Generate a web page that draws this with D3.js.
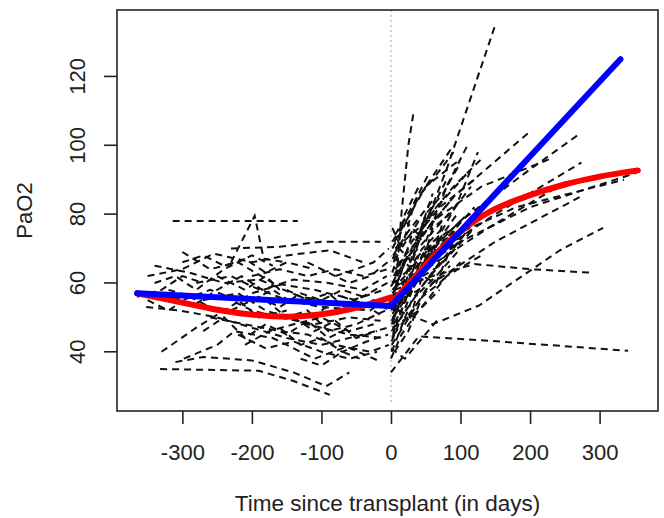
<!DOCTYPE html>
<html>
<head>
<meta charset="utf-8">
<script src="https://cdn.jsdelivr.net/npm/d3@7"></script>
<style>
  body { margin: 0; background: #fff; }
  text { font-family: "Liberation Sans", Arial, sans-serif; }
</style>
</head>
<body>
<div id="chart"></div>
<script>
// tick labels
var xTicks = [-300, -200, -100, 0, 100, 200, 300]
var yTicks = [40, 60, 80, 100, 120]

// individual patients before transplant: [day, PaO2]
var preTrajectories = [
  [[-314,78],[-196,78],[-134,78]],
  [[-230,66],[-196,79.5],[-183,67],[-150,66]],
  [[-332,35],[-190,34.5],[-140,31.5],[-88,27.5]],
  [[-310,37],[-270,38.5],[-200,37.5],[-140,34],[-93,30],[-60,34]],
  [[-330,40],[-280,47],[-240,52],[-200,57],[-150,60]],
  [[-298,38],[-250,42],[-225,46],[-170,44],[-110,38],[-64,41.5],[-19,37.5]],
  [[-230,70],[-160,70.5],[-100,72],[-15,72]],
  [[-350,62],[-300,64],[-255,68.5],[-200,66],[-150,68],[-88,69.5],[-40,66]],
  [[-352,53],[-304,52],[-250,50],[-200,47],[-150,44],[-100,42],[-40,45],[-5,47]],
  [[-320,58],[-270,55],[-220,57],[-180,52],[-120,48],[-60,45],[-10,44]],
  [[-340,65],[-290,63],[-240,60],[-190,61],[-130,56],[-70,54],[-10,58]],
  [[-300,69],[-260,64],[-220,66],[-170,60],[-110,58],[-50,55],[-5,60]],
  [[-280,60],[-230,62],[-200,59],[-150,55],[-100,53],[-30,52],[-2,56]],
  [[-260,50],[-210,48],[-160,46],[-120,45],[-80,42],[-30,40],[-3,42]],
  [[-240,56],[-200,52],[-160,50],[-110,48],[-60,50],[-15,49]],
  [[-220,45],[-180,41],[-140,43],[-100,40],[-60,38],[-20,40]],
  [[-200,62],[-160,64],[-120,62],[-80,64],[-40,62],[-5,64]],
  [[-180,55],[-150,50],[-120,52],[-90,46],[-50,48],[-8,52]],
  [[-340,60],[-310,62],[-280,58],[-240,64],[-200,68],[-170,65]],
  [[-330,57],[-300,55],[-260,58],[-220,55],[-190,50],[-150,52]],
  [[-280,54],[-250,58],[-215,62],[-185,58],[-140,61],[-90,60],[-40,58],[-6,62]],
  [[-160,47],[-130,42],[-100,44],[-70,40],[-35,43],[-4,45]],
  [[-150,58],[-120,55],[-90,57],[-60,52],[-25,55],[-3,52]],
  [[-120,66],[-90,63],[-60,60],[-30,62],[-5,66]],
  [[-210,42],[-175,46],[-140,48],[-100,50],[-60,46],[-25,48]],
  [[-100,52],[-70,56],[-40,54],[-10,50]],
  [[-130,38],[-100,36],[-70,40],[-45,38]],
  [[-80,62],[-50,64],[-25,66],[-3,70]],
  [[-250,62],[-210,58],[-180,62],[-160,58]],
  [[-365,56],[-330,58],[-300,62],[-270,60]],
  [[-300,66],[-270,68],[-240,65],[-210,67],[-180,63],[-150,66],[-110,64]],
  [[-270,46],[-240,50],[-210,44],[-180,48],[-150,45],[-120,49],[-90,44],[-60,47]],
  [[-190,56],[-160,53],[-130,57],[-100,55],[-70,58],[-40,56]],
  [[-350,55],[-320,52],[-290,56],[-260,53]],
  [[-140,50],[-110,46],[-80,49],[-50,44],[-20,46]],
  [[-230,52],[-200,55],[-170,58],[-140,54]]
]

// individual patients after transplant
var postTrajectories = [
  [[5,50],[40,72],[80,93],[120,117],[150,135]],
  [[3,48],[15,80],[25,100],[32,109]],
  [[5,58],[60,62],[120,65.5],[200,64],[286,63]],
  [[0,34],[40,44.5],[127,43.4],[341,40.3]],
  [[10,52],[60,48],[127,53.5],[243,69.5],[305,76]],
  [[5,55],[80,70],[200,82],[353,92]],
  [[5,60],[100,78],[200,93],[269,103]],
  [[8,65],[90,85],[200,104]],
  [[3,52],[60,68],[150,80],[274,95]],
  [[2,57],[70,72],[180,82],[335,90]],
  [[4,45],[60,60],[150,72],[272,85]],
  [[6,62],[60,78],[130,88],[228,96]],
  [[3,50],[50,64],[140,76],[257,90]],
  [[2,70],[40,85],[90,100]],
  [[5,72],[50,88],[100,96]],
  [[1,40],[30,55],[70,66],[110,75]],
  [[2,44],[25,58],[60,70],[95,80]],
  [[4,62],[30,72],[70,82],[120,90]],
  [[1,55],[20,66],[50,75],[90,85]],
  [[3,68],[25,75],[60,84]],
  [[2,47],[40,52],[80,62],[130,68]],
  [[1,42],[20,48],[50,58],[85,65]],
  [[4,53],[35,62],[70,72],[110,80]],
  [[2,60],[30,70],[55,80],[80,90]],
  [[6,74],[30,82],[55,92]],
  [[1,49],[25,60],[55,66],[100,72]],
  [[3,56],[30,60],[70,65],[120,76]],
  [[0,38],[15,45],[40,52],[70,58]],
  [[5,64],[30,68],[65,76],[100,84]],
  [[2,51],[20,56],[45,64],[80,73],[120,82]],
  [[1,46],[35,56],[65,62],[100,70]],
  [[4,66],[20,80],[40,88]],
  [[2,58],[20,62],[45,70],[75,76]],
  [[6,70],[40,76],[75,84],[110,92]],
  [[1,43],[15,50],[35,60],[60,72]],
  [[3,54],[40,58],[90,70],[150,86]],
  [[2,76],[15,70],[40,78]],
  [[0,41],[20,38],[45,44],[70,50]],
  [[2,63],[12,70],[30,66],[50,80],[75,86],[100,95]],
  [[1,52],[10,60],[25,56],[45,68],[70,74],[95,83],[125,98]],
  [[3,45],[12,52],[28,50],[45,62],[65,60],[90,72]],
  [[0,59],[15,64],[30,74],[50,72],[80,88],[110,100]],
  [[4,48],[20,54],[35,66],[55,64],[75,78]],
  [[2,67],[18,72],[35,84],[60,90],[90,98]],
  [[1,53],[15,58],[40,74],[65,82],[90,88],[130,96]],
  [[5,40],[25,46],[45,56],[70,60],[100,66]],
  [[3,57],[20,66],[40,62],[60,76],[85,80],[115,88]],
  [[2,72],[20,78],[40,74],[60,86]],
  [[1,48],[15,55],[30,62],[50,70],[70,68],[100,78],[140,84]],
  [[4,61],[20,58],[40,68],[60,72],[90,76]]
]

// fitted curves
var redFitPre = [[-365,57],[-300,54.3],[-250,52.2],[-200,50.8],[-150,50.2],[-100,50.9],[-50,52.8],[0,55.8]]
var redFitPost = [[0,54],[20,58.5],[40,63],[60,67.5],[80,71.5],[100,75],[120,78],[150,81.5],[200,85.5],[250,88.6],[300,90.9],[355,92.7]]
var blueFit = [[-365,57],[0,53.3],[330,125]]

var svgWdth = 664
var svgHt = 518
var margin = { top: 10, right: 6, bottom: 107, left: 117 }
var width = svgWdth - margin.left - margin.right
var height = svgHt - margin.top - margin.bottom
var fontStack = '"Liberation Sans", Arial, sans-serif'

var svg = d3.select('#chart')
    .append('svg')
    .attr('width', svgWdth)
    .attr('height', svgHt)

var chartGroup = svg.append('g')
    .attr('transform', `translate(${margin.left}, ${margin.top})`)

var x = d3.scaleLinear().domain([-394, 384]).range([0, width])
var y = d3.scaleLinear().domain([22.8, 139.3]).range([height, 0])

var line = d3.line().x(d => x(d[0])).y(d => y(d[1]))
var curve = d3.line().x(d => x(d[0])).y(d => y(d[1])).curve(d3.curveMonotoneX)

// vertical reference at transplant
chartGroup.append('line')
    .attr('x1', x(0)).attr('x2', x(0))
    .attr('y1', 0).attr('y2', height - 6)
    .attr('stroke', '#c0c0c0')
    .attr('stroke-width', 1.5)
    .attr('stroke-dasharray', '2,3')

// spaghetti
function drawSpaghetti(cls, data) {
  chartGroup.selectAll('.' + cls)
    .data(data)
    .enter().append('path')
    .attr('class', cls)
    .attr('d', line)
    .attr('fill', 'none')
    .attr('stroke', '#111')
    .attr('stroke-width', 2)
    .attr('stroke-dasharray', '7,5')
}
drawSpaghetti('pre', preTrajectories)
drawSpaghetti('post', postTrajectories)

// fits
;[redFitPre, redFitPost].forEach(function(pts) {
  chartGroup.append('path')
    .attr('d', curve(pts))
    .attr('fill', 'none')
    .attr('stroke', '#ff0000')
    .attr('stroke-width', 6)
    .attr('stroke-linecap', 'round')
    .attr('stroke-linejoin', 'round')
})

chartGroup.append('path')
    .attr('d', line(blueFit))
    .attr('fill', 'none')
    .attr('stroke', '#0000ff')
    .attr('stroke-width', 6)
    .attr('stroke-linecap', 'round')
    .attr('stroke-linejoin', 'round')

// box
chartGroup.append('rect')
    .attr('width', width).attr('height', height)
    .attr('fill', 'none')
    .attr('stroke', '#222')
    .attr('stroke-width', 1.6)

// axes
var bottomAxis = d3.axisBottom(x).tickValues(xTicks).tickFormat(d => String(d))
    .tickSize(13).tickPadding(20).tickSizeOuter(0)
var leftAxis = d3.axisLeft(y).tickValues(yTicks).tickFormat(d => String(d))
    .tickSize(13).tickPadding(10).tickSizeOuter(0)

var xAxis = chartGroup.append('g')
    .attr('transform', `translate(0, ${height})`)
    .call(bottomAxis)
xAxis.select('.domain').remove()
xAxis.selectAll('line').attr('stroke', '#222').attr('stroke-width', 1.6)
xAxis.selectAll('text').attr('font-size', 22).attr('fill', '#222')
    .attr('font-family', fontStack)

var yAxis = chartGroup.append('g').call(leftAxis)
yAxis.select('.domain').remove()
yAxis.selectAll('line').attr('stroke', '#222').attr('stroke-width', 1.6)
yAxis.selectAll('text')
    .attr('font-size', 22).attr('fill', '#222')
    .attr('font-family', fontStack)
    .attr('text-anchor', 'middle')
    .attr('dy', null)
    .attr('x', null)
    .attr('transform', d => `translate(-39, ${y(d)}) rotate(-90)`)
    .attr('y', 7)
yAxis.selectAll('.tick').attr('transform', null)
yAxis.selectAll('.tick line').attr('y1', d => y(d)).attr('y2', d => y(d))

// labels
svg.append('text')
    .attr('x', margin.left + width / 2)
    .attr('y', 511)
    .attr('text-anchor', 'middle')
    .attr('font-size', 22.5)
    .attr('fill', '#222')
    .text('Time since transplant (in days)')

svg.append('text')
    .attr('transform', `translate(32, ${margin.top + height / 2}) rotate(-90)`)
    .attr('text-anchor', 'middle')
    .attr('font-size', 22)
    .attr('fill', '#222')
    .text('PaO2')
</script>
</body>
</html>
